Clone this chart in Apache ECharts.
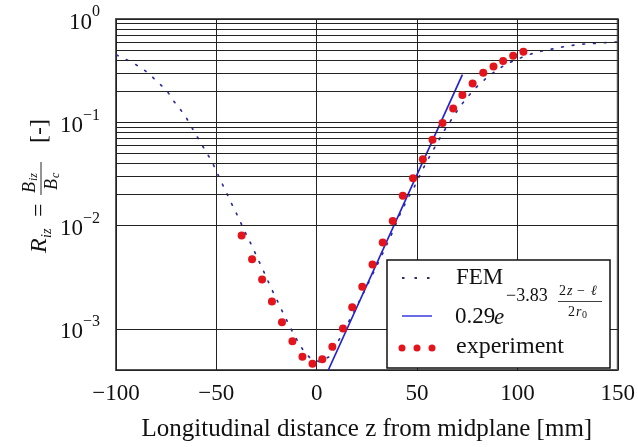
<!DOCTYPE html>
<html><head><meta charset="utf-8">
<script src="https://cdn.jsdelivr.net/npm/echarts@6/dist/echarts.min.js"></script>
<style>html,body{margin:0;padding:0;background:#fff}#c{width:638px;height:447px}</style>
</head><body><div id="c"></div>
<script>
const FONT = '"Liberation Serif", serif';

// FEM simulation (dotted)
const femX = [-99.7,-94.7,-90.1,-85.5,-81.5,-77.7,-74.1,-71.2,-67.9,-64.9,-62.3,-59.7,-57.0,-54.5,-51.9,-49.6,-47.4,-45.1,-43.0,-40.8,-38.5,-36.4,-34.0,-31.7,-29.6,-27.4,-25.2,-23.1,-20.8,-18.5,-16.3,-14.0,-11.7,-9.2,-6.4,-3.1,1.5,6.6,12.5,18.5,23.5,28.5,33.4,38.4,40.9,43.3,45.8,48.3,52.8,55.4,57.9,60.4,62.8,65.7,68.7,71.5,74.8,78.1,81.9,85.9,90.1,94.4,99.1,104.2,109.2,114.5,119.6,124.7,130.0,135.5,140.9,146.2,150];
const femY = [0.448,0.404,0.362,0.316,0.270,0.230,0.195,0.160,0.133,0.110,0.0897,0.0733,0.0597,0.0495,0.0404,0.0325,0.0262,0.0211,0.0172,0.0141,0.0114,0.00923,0.00743,0.00603,0.00489,0.00396,0.00321,0.00258,0.00209,0.00168,0.00137,0.00111,0.00091,0.000743,0.000607,0.000518,0.00048,0.000541,0.00088,0.00145,0.00227,0.00358,0.00565,0.00917,0.0122,0.0152,0.0189,0.0230,0.0350,0.0435,0.0533,0.0648,0.0788,0.0964,0.118,0.143,0.172,0.205,0.242,0.282,0.323,0.366,0.402,0.441,0.475,0.502,0.521,0.548,0.565,0.577,0.585,0.594,0.60];

// Exponential fit (solid line), end points
const fitX = [5.8, 72.6];
const fitY = [0.0004, 0.29];

// Experiment (red dots)
const expX = [-37.4,-32.2,-27.2,-22.3,-17.3,-12.1,-7.1,-2.1,2.8,7.8,13.1,17.7,22.7,27.8,32.9,37.9,42.9,48.0,52.9,57.7,62.7,68.0,72.6,77.7,83.0,88.1,92.9,97.9,103.0];
const expY = [0.0080,0.00471,0.00301,0.00184,0.00116,0.000759,0.000536,0.000460,0.000507,0.000671,0.00101,0.00162,0.00256,0.00420,0.00687,0.0111,0.0195,0.0288,0.0438,0.0676,0.0985,0.136,0.184,0.237,0.301,0.347,0.393,0.441,0.481];

// minor log grid values
const minorY = [0.0005,0.0006,0.0007,0.0008,0.0009,
  0.002,0.003,0.004,0.005,0.006,0.007,0.008,0.009,
  0.02,0.03,0.04,0.05,0.06,0.07,0.08,0.09,
  0.2,0.3,0.4,0.5,0.6,0.7,0.8,0.9];

const zip = (a,b)=>a.map((v,i)=>[v,b[i]]);
const chart = echarts.init(document.getElementById('c'));

function txt(text, x, y, size, opts) {
  opts = opts || {};
  return { type:'text', z:101, style:{ text:text, x:x, y:y, fill:'#111',
    font:(opts.italic?'italic ':'') + size + 'px ' + FONT,
    align: opts.align || 'left', verticalAlign:'middle' } };
}

const option = {
  animation:false,
  grid:{left:116,right:18,top:19,bottom:68,show:true,borderColor:'#555',borderWidth:2},
  xAxis:{type:'value',min:-100,max:150,interval:50,
    axisLine:{show:false},axisTick:{show:false},
    splitLine:{show:true,lineStyle:{color:'#222',width:1}},
    axisLabel:{margin:12,fontFamily:FONT,fontSize:23,color:'#111',
      formatter:v=> v<0 ? '\u2212'+(-v) : String(v)},
    name:'Longitudinal distance z from midplane [mm]',nameLocation:'middle',nameGap:47,
    nameTextStyle:{fontFamily:FONT,fontSize:25,color:'#111'}},
  yAxis:{type:'log',logBase:10,min:0.0004,max:1,
    axisLine:{show:false},axisTick:{show:false},
    splitLine:{show:true,lineStyle:{color:'#222',width:1}},
    axisLabel:{margin:16,
      formatter:function(v){
        const e = Math.log10(v); const r = Math.round(e);
        if (Math.abs(e-r) > 1e-6) return '';
        return '{b|10}{s|' + (r<0 ? '\u2212'+(-r) : r) + '}';
      },
      rich:{
        b:{fontFamily:FONT,fontSize:23,color:'#111',lineHeight:30,verticalAlign:'bottom'},
        s:{fontFamily:FONT,fontSize:16,color:'#111',lineHeight:16,verticalAlign:'top'}
      }}},
  series:[
    {name:'grid',type:'line',data:[],z:1,silent:true,
      markLine:{silent:true,symbol:['none','none'],animation:false,label:{show:false},
        lineStyle:{color:'#222',width:1,type:'solid'},
        emphasis:{disabled:true},
        data:minorY.map(v=>({yAxis:v}))}},
    {name:'FEM',type:'line',data:zip(femX,femY),showSymbol:false,z:3,
      lineStyle:{color:'#2f2f9a',width:1.7,type:[1.7,9],cap:'round'}},
    {name:'fit',type:'line',data:zip(fitX,fitY),showSymbol:false,z:4,
      lineStyle:{color:'#2323d0',width:1.7}},
    {name:'experiment',type:'scatter',data:zip(expX,expY),z:5,
      symbol:'circle',symbolSize:8,itemStyle:{color:'#e3141c',opacity:1}}
  ],
  graphic:[
    {type:'rect',z:100,shape:{x:387,y:260,width:223,height:108},
      style:{fill:'#fff',stroke:'#111',lineWidth:1.5}},
    {type:'line',z:101,shape:{x1:402,y1:278,x2:430,y2:278},
      style:{stroke:'#303060',lineWidth:1.8,lineDash:[2.5,10]}},
    txt('FEM',456,278,23),
    {type:'line',z:101,shape:{x1:402,y1:316,x2:432,y2:316},
      style:{stroke:'#6b6be8',lineWidth:2}},
    txt('0.29',455,317,23),
    txt('e',494,318,23,{italic:true}),
    txt('\u22123.83',506,296,18),
    txt('2',559,291,14),
    txt('z',567,291,14,{italic:true}),
    txt('\u2212',577,291,14),
    txt('\u2113',591,291,14,{italic:true}),
    {type:'line',z:101,shape:{x1:558,y1:301.5,x2:602,y2:301.5},style:{stroke:'#111',lineWidth:0.8}},
    txt('2',568,312,14),
    txt('r',576,312,14,{italic:true}),
    txt('0',582,315,10),
    {type:'circle',z:101,shape:{cx:402,cy:348,r:3.5},style:{fill:'#e3141c'}},
    {type:'circle',z:101,shape:{cx:417,cy:348,r:3.5},style:{fill:'#e3141c'}},
    {type:'circle',z:101,shape:{cx:432,cy:348,r:3.5},style:{fill:'#e3141c'}},
    txt('experiment',456,347,24),
    {type:'group',x:40,y:253,rotation:Math.PI/2,children:[
      txt('R',0,0,24,{italic:true}),
      txt('iz',15,7,14,{italic:true}),
      txt('=',36,0,24),
      txt('B',60,-10,18,{italic:true}),
      txt('iz',72,-6,12,{italic:true}),
      {type:'line',z:101,shape:{x1:58,y1:1,x2:91,y2:1},style:{stroke:'#111',lineWidth:0.9}},
      txt('B',63,12,18,{italic:true}),
      txt('c',75,16,12,{italic:true}),
      txt('[-]',110,0,24)
    ]}
  ]
};
chart.setOption(option);
</script>
</body></html>
